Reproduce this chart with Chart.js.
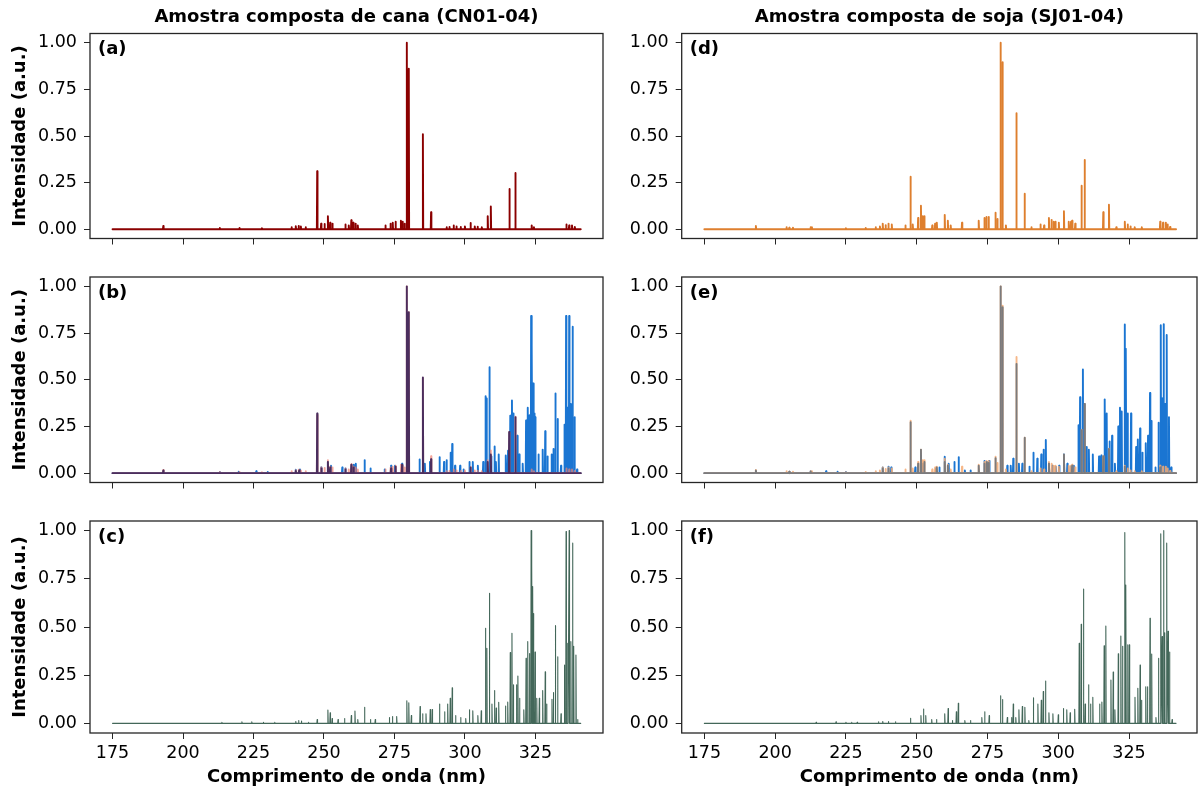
<!DOCTYPE html>
<html>
<head>
<meta charset="utf-8">
<title>Espectros - cana e soja</title>
<script src="https://cdn.jsdelivr.net/npm/chart.js@4.4.0/dist/chart.umd.min.js"></script>
<style>
  body { margin: 0; background: #fff; }
  .cell { position: absolute; }
</style>
</head>
<body>
<div class="cell" style="left:0;top:0;width:610px;height:256px"><canvas id="pa"></canvas></div>
<div class="cell" style="left:610px;top:0;width:589px;height:256px"><canvas id="pd"></canvas></div>
<div class="cell" style="left:0;top:256px;width:610px;height:244px"><canvas id="pb"></canvas></div>
<div class="cell" style="left:610px;top:256px;width:589px;height:244px"><canvas id="pe"></canvas></div>
<div class="cell" style="left:0;top:500px;width:610px;height:291px"><canvas id="pc"></canvas></div>
<div class="cell" style="left:610px;top:500px;width:589px;height:291px"><canvas id="pf"></canvas></div>
<script>
// axis ticks
const xTicks = [175, 200, 225, 250, 275, 300, 325];
const yTicks = [0, 0.25, 0.5, 0.75, 1.0];
const xMin = 167, xMax = 349;

// (a) amostra composta de cana
const cnNm  = [193.0, 213.0, 220.0, 228.0, 238.5, 240.0, 241.0, 241.8, 243.5, 247.6, 249.0, 250.2, 251.4, 252.2, 253.0, 257.6, 258.8, 259.7, 260.4, 261.2, 262.0, 271.8, 273.6, 274.4, 275.4, 277.3, 277.9, 278.6, 279.4, 280.1, 285.1, 288.0, 293.5, 294.5, 296.0, 297.0, 298.5, 300.0, 302.0, 303.5, 304.5, 306.0, 308.1, 309.2, 315.8, 317.9, 323.7, 324.5, 336.0, 337.0, 338.0, 339.0];
const cnInt = [0.017, 0.006, 0.006, 0.005, 0.01, 0.016, 0.018, 0.015, 0.01, 0.311, 0.03, 0.028, 0.069, 0.035, 0.03, 0.025, 0.02, 0.048, 0.035, 0.03, 0.02, 0.02, 0.03, 0.035, 0.04, 0.045, 0.04, 0.03, 1.0, 0.861, 0.51, 0.091, 0.01, 0.012, 0.02, 0.015, 0.012, 0.015, 0.033, 0.015, 0.013, 0.01, 0.07, 0.122, 0.216, 0.302, 0.02, 0.01, 0.025, 0.02, 0.02, 0.012];

// (d) amostra composta de soja
const soyNm  = [193.2, 204.0, 205.0, 206.3, 212.5, 213.0, 225.0, 232.0, 235.5, 237.0, 238.0, 239.0, 240.0, 241.2, 246.0, 247.8, 248.6, 250.5, 251.5, 252.1, 252.7, 255.5, 256.5, 257.1, 259.9, 261.0, 262.0, 266.0, 271.9, 273.9, 274.6, 275.4, 277.8, 278.5, 279.6, 280.3, 281.5, 285.2, 288.1, 290.5, 293.7, 295.0, 296.7, 297.6, 298.4, 299.0, 300.2, 302.0, 303.7, 304.5, 304.9, 306.0, 308.2, 309.3, 315.9, 317.9, 320.5, 323.5, 324.5, 325.5, 327.0, 329.5, 336.0, 337.0, 338.0, 338.6, 339.5];
const soyInt = [0.017, 0.01, 0.008, 0.008, 0.01, 0.01, 0.005, 0.006, 0.01, 0.015, 0.03, 0.022, 0.03, 0.025, 0.02, 0.281, 0.025, 0.06, 0.126, 0.07, 0.07, 0.02, 0.03, 0.035, 0.077, 0.045, 0.02, 0.035, 0.045, 0.06, 0.065, 0.065, 0.088, 0.055, 1.0, 0.896, 0.02, 0.622, 0.19, 0.01, 0.025, 0.02, 0.06, 0.05, 0.04, 0.04, 0.035, 0.096, 0.04, 0.04, 0.045, 0.03, 0.233, 0.371, 0.091, 0.131, 0.01, 0.04, 0.025, 0.015, 0.01, 0.01, 0.04, 0.035, 0.035, 0.025, 0.012];

// (b) cana: espectro medio e espectro de referencia
const cnMixNm  = [193.0, 240.0, 241.2, 247.6, 249.1, 251.4, 252.2, 257.6, 259.7, 260.5, 273.8, 275.4, 277.7, 279.4, 280.1, 285.1, 288.0, 302.0, 308.1, 309.2, 315.7, 317.9];
const cnMixInt = [0.015, 0.012, 0.015, 0.32, 0.025, 0.06, 0.03, 0.02, 0.045, 0.03, 0.025, 0.035, 0.045, 1.0, 0.862, 0.512, 0.075, 0.03, 0.06, 0.1, 0.22, 0.30];
const cnRefNm  = [213.0, 219.7, 226.0, 230.0, 240.0, 241.5, 249.0, 251.4, 252.5, 256.5, 257.6, 260.6, 261.3, 264.4, 266.5, 271.5, 273.8, 275.2, 277.7, 283.9, 285.8, 287.6, 291.0, 292.6, 293.5, 294.9, 295.5, 296.5, 298.3, 299.5, 301.6, 302.8, 304.6, 306.5, 307.3, 307.7, 308.7, 309.3, 310.5, 311.0, 312.0, 314.5, 315.3, 316.1, 316.7, 317.2, 318.6, 319.3, 320.5, 321.7, 322.3, 322.9, 323.5, 323.8, 324.2, 324.6, 325.0, 326.1, 327.6, 328.5, 329.3, 330.8, 331.4, 332.1, 332.9, 334.1, 335.3, 335.9, 336.4, 337.0, 337.6, 338.2, 338.9, 339.8];
const cnRefInt = [0.006, 0.008, 0.01, 0.006, 0.018, 0.02, 0.03, 0.06, 0.04, 0.03, 0.025, 0.045, 0.05, 0.07, 0.025, 0.02, 0.04, 0.04, 0.05, 0.074, 0.05, 0.06, 0.086, 0.06, 0.07, 0.109, 0.156, 0.04, 0.04, 0.02, 0.06, 0.06, 0.04, 0.06, 0.412, 0.40, 0.567, 0.09, 0.143, 0.06, 0.10, 0.095, 0.12, 0.308, 0.389, 0.32, 0.2, 0.1, 0.05, 0.282, 0.35, 0.31, 0.841, 0.684, 0.48, 0.32, 0.30, 0.1, 0.126, 0.225, 0.09, 0.1, 0.13, 0.426, 0.29, 0.04, 0.26, 0.841, 0.35, 0.841, 0.37, 0.784, 0.30, 0.02];

// (e) soja: espectro medio e espectro de referencia
const soyMixNm  = [193.2, 205.0, 212.5, 238.0, 240.0, 247.8, 250.5, 251.5, 252.7, 257.1, 259.9, 261.0, 271.9, 273.9, 274.8, 275.4, 277.8, 279.6, 280.3, 285.2, 288.1, 296.7, 302.0, 304.9, 308.2, 309.3, 315.9, 317.9, 323.5, 336.0];
const soyMixInt = [0.015, 0.006, 0.008, 0.025, 0.025, 0.273, 0.05, 0.126, 0.06, 0.03, 0.06, 0.04, 0.04, 0.05, 0.06, 0.055, 0.08, 1.0, 0.888, 0.585, 0.19, 0.05, 0.1, 0.04, 0.23, 0.37, 0.09, 0.13, 0.035, 0.03];
const soyRefNm  = [205.0, 212.5, 218.0, 222.0, 225.0, 238.0, 240.0, 241.0, 249.5, 252.2, 256.8, 258.0, 259.9, 261.3, 263.3, 264.8, 267.0, 269.0, 273.9, 275.6, 282.0, 283.2, 284.1, 286.1, 287.3, 289.8, 291.2, 292.6, 294.0, 294.8, 295.6, 296.7, 297.9, 299.1, 300.3, 302.0, 303.2, 304.3, 305.5, 307.1, 307.7, 308.7, 309.3, 310.0, 310.8, 312.2, 314.4, 315.2, 316.4, 317.1, 318.1, 319.0, 320.0, 321.2, 321.8, 322.4, 323.5, 323.9, 324.5, 325.7, 327.5, 328.1, 328.9, 329.7, 330.9, 331.7, 332.4, 332.9, 334.3, 335.4, 336.2, 336.7, 337.2, 337.7, 338.3, 339.1, 339.9];
const soyRefInt = [0.008, 0.01, 0.01, 0.008, 0.006, 0.03, 0.035, 0.03, 0.03, 0.05, 0.025, 0.03, 0.088, 0.05, 0.06, 0.086, 0.015, 0.015, 0.066, 0.066, 0.04, 0.04, 0.078, 0.05, 0.05, 0.035, 0.109, 0.078, 0.10, 0.126, 0.178, 0.05, 0.04, 0.035, 0.04, 0.10, 0.05, 0.035, 0.04, 0.257, 0.406, 0.555, 0.37, 0.14, 0.125, 0.10, 0.09, 0.095, 0.395, 0.32, 0.17, 0.20, 0.05, 0.25, 0.35, 0.33, 0.796, 0.666, 0.32, 0.32, 0.14, 0.18, 0.239, 0.11, 0.16, 0.20, 0.429, 0.28, 0.03, 0.27, 0.792, 0.40, 0.798, 0.37, 0.74, 0.30, 0.03];

// (c) cana normalizado
const cnNormNm  = [213.8, 220.9, 224.4, 228.5, 232.5, 240.0, 241.0, 242.0, 244.5, 247.6, 251.4, 252.2, 252.9, 255.0, 257.3, 259.7, 261.0, 262.0, 264.4, 266.5, 268.2, 273.2, 274.3, 275.8, 279.4, 280.1, 281.0, 284.1, 285.0, 286.2, 287.7, 288.4, 291.0, 292.8, 293.9, 294.8, 295.5, 296.7, 298.5, 300.3, 301.6, 302.8, 304.6, 305.8, 307.3, 307.8, 308.7, 309.6, 310.5, 311.1, 312.0, 314.4, 315.2, 316.1, 316.7, 317.2, 318.3, 318.8, 319.4, 320.9, 321.7, 322.3, 322.9, 323.5, 323.8, 324.1, 324.4, 324.9, 325.5, 326.4, 327.6, 328.5, 329.0, 330.9, 331.4, 332.1, 332.9, 334.1, 335.3, 335.9, 336.5, 337.0, 337.6, 338.2, 338.6, 339.4, 340.0];
const cnNormInt = [0.005, 0.008, 0.008, 0.005, 0.005, 0.01, 0.015, 0.012, 0.005, 0.02, 0.069, 0.055, 0.025, 0.02, 0.025, 0.04, 0.064, 0.02, 0.083, 0.02, 0.02, 0.03, 0.035, 0.035, 0.117, 0.107, 0.04, 0.087, 0.05, 0.05, 0.072, 0.072, 0.1, 0.06, 0.1, 0.13, 0.185, 0.04, 0.03, 0.025, 0.07, 0.065, 0.04, 0.065, 0.493, 0.39, 0.675, 0.1, 0.17, 0.08, 0.109, 0.09, 0.11, 0.367, 0.467, 0.2, 0.2, 0.246, 0.13, 0.07, 0.337, 0.424, 0.362, 1.0, 0.822, 0.71, 0.57, 0.37, 0.13, 0.13, 0.17, 0.268, 0.10, 0.125, 0.16, 0.507, 0.345, 0.05, 0.303, 0.995, 0.415, 1.0, 0.424, 0.935, 0.40, 0.355, 0.02];

// (f) soja normalizado
const soyNormNm  = [214.5, 221.5, 225.0, 227.0, 229.0, 236.5, 238.0, 240.0, 242.5, 247.8, 251.5, 252.4, 253.2, 255.3, 257.0, 259.9, 261.1, 262.6, 264.0, 264.7, 267.0, 269.0, 273.0, 274.0, 275.6, 279.6, 280.3, 282.0, 283.5, 284.1, 285.0, 286.1, 287.3, 288.2, 289.6, 291.2, 292.8, 294.0, 294.7, 295.5, 296.7, 298.1, 300.0, 301.8, 303.0, 304.2, 305.8, 307.4, 308.1, 308.9, 309.5, 310.7, 311.4, 312.2, 314.6, 315.4, 316.2, 316.8, 318.6, 319.4, 320.0, 321.2, 322.1, 322.7, 323.5, 323.9, 324.5, 325.1, 327.1, 328.1, 328.9, 329.4, 330.9, 331.5, 332.4, 333.0, 334.5, 335.4, 336.2, 336.7, 337.2, 337.6, 338.3, 338.8, 339.3, 340.2];
const soyNormInt = [0.006, 0.008, 0.006, 0.005, 0.006, 0.008, 0.01, 0.01, 0.008, 0.026, 0.04, 0.074, 0.04, 0.02, 0.02, 0.05, 0.077, 0.015, 0.06, 0.104, 0.015, 0.015, 0.03, 0.06, 0.04, 0.143, 0.124, 0.03, 0.03, 0.1, 0.03, 0.07, 0.087, 0.083, 0.015, 0.133, 0.1, 0.12, 0.165, 0.22, 0.055, 0.05, 0.045, 0.077, 0.07, 0.055, 0.073, 0.415, 0.514, 0.697, 0.10, 0.2, 0.10, 0.135, 0.10, 0.11, 0.403, 0.505, 0.225, 0.266, 0.07, 0.361, 0.453, 0.40, 0.99, 0.718, 0.407, 0.407, 0.135, 0.182, 0.302, 0.12, 0.19, 0.19, 0.545, 0.36, 0.03, 0.337, 0.983, 0.45, 1.0, 0.47, 0.935, 0.478, 0.37, 0.02];

const cnEnd = 341.1, soyEnd = 341.6;

// turn peak lists into a stick spectrum on a zero baseline
function stick(nm, ints, end) {
  const pts = [{x: 175, y: 0}];
  nm.forEach((w, i) => {
    pts.push({x: w - 0.12, y: 0}, {x: w, y: ints[i]}, {x: w + 0.12, y: 0});
  });
  pts.push({x: end, y: 0});
  return pts;
}

const tickFont = {family: '"DejaVu Sans"', size: 17.5};
const labelFont = {family: '"DejaVu Sans"', size: 18, weight: 'bold', lineHeight: 1.2};

const framePlugin = {
  id: 'frame',
  afterDraw(chart, args, opts) {
    const {ctx, chartArea: c} = chart;
    ctx.save();
    ctx.strokeStyle = '#262626';
    ctx.lineWidth = 1.3;
    ctx.strokeRect(c.left, c.top, c.right - c.left, c.bottom - c.top);
    ctx.fillStyle = '#000';
    ctx.font = 'bold 18px "DejaVu Sans"';
    ctx.textBaseline = 'middle';
    ctx.fillText(opts.label, c.left + 8, c.top + 16);
    if (opts.title) {
      ctx.textAlign = 'center';
      ctx.fillText(opts.title, (c.left + c.right) / 2, 17);
    }
    ctx.restore();
  }
};

function panel(id, o) {
  const left = o.col === 0, bottom = o.row === 2;
  new Chart(document.getElementById(id), {
    type: 'line',
    data: {
      datasets: o.series.map(s => ({
        data: s.data, borderColor: s.color, borderWidth: s.width || 1.9,
        borderJoinStyle: 'round', borderCapStyle: 'round',
        pointRadius: 0, tension: 0, fill: false
      }))
    },
    options: {
      responsive: true, maintainAspectRatio: false, animation: false,
      layout: {padding: {top: [33.5, 21, 21][o.row], right: left ? 7 : 2, left: 0, bottom: 0}},
      plugins: {legend: {display: false}, tooltip: {enabled: false}, frame: {label: o.label, title: o.title}},
      scales: {
        x: {
          type: 'linear', min: xMin, max: xMax,
          afterBuildTicks: s => { s.ticks = xTicks.map(v => ({value: v})); },
          afterFit: s => { s.height = bottom ? 58 : [10.5, 11][o.row]; },
          grid: {drawOnChartArea: false, tickLength: 6, color: '#262626'},
          border: {display: false},
          ticks: {display: bottom, font: tickFont, color: '#000', padding: 4, maxRotation: 0, autoSkip: false},
          title: {display: bottom, text: 'Comprimento de onda (nm)', font: labelFont, color: '#000', padding: {top: 0, bottom: 3}}
        },
        y: {
          min: -0.05, max: 1.05,
          afterBuildTicks: s => { s.ticks = yTicks.map(v => ({value: v})); },
          afterFit: s => { s.width = left ? 90 : 71.7; },
          grid: {drawOnChartArea: false, tickLength: 6, color: '#262626'},
          border: {display: false},
          ticks: {font: tickFont, color: '#000', padding: 7, callback: v => v.toFixed(2)},
          title: {display: left, text: 'Intensidade (a.u.)', font: labelFont, color: '#000', padding: {top: 10, bottom: 0}}
        }
      }
    },
    plugins: [framePlugin]
  });
}

panel('pa', {row: 0, col: 0, label: '(a)', title: 'Amostra composta de cana (CN01-04)',
  series: [{data: stick(cnNm, cnInt, cnEnd), color: '#8b0000'}]});
panel('pd', {row: 0, col: 1, label: '(d)', title: 'Amostra composta de soja (SJ01-04)',
  series: [{data: stick(soyNm, soyInt, soyEnd), color: '#de7f2e'}]});
panel('pb', {row: 1, col: 0, label: '(b)',
  series: [
    {data: stick(cnMixNm, cnMixInt, cnEnd), color: '#4b2e5e'},
    {data: stick(cnNm, cnInt, cnEnd), color: 'rgba(240,128,112,0.7)'},
    {data: stick(cnRefNm, cnRefInt, cnEnd), color: '#1a75d2'}
  ]});
panel('pe', {row: 1, col: 1, label: '(e)',
  series: [
    {data: stick(soyMixNm, soyMixInt, soyEnd), color: '#7b7b7d'},
    {data: stick(soyNm, soyInt, soyEnd), color: 'rgba(245,170,115,0.85)'},
    {data: stick(soyRefNm, soyRefInt, soyEnd), color: '#1a75d2'}
  ]});
panel('pc', {row: 2, col: 0, label: '(c)',
  series: [{data: stick(cnNormNm, cnNormInt, cnEnd), color: 'rgba(34,76,60,0.85)', width: 1.1}]});
panel('pf', {row: 2, col: 1, label: '(f)',
  series: [{data: stick(soyNormNm, soyNormInt, soyEnd), color: 'rgba(34,76,60,0.85)', width: 1.1}]});
</script>
</body>
</html>
